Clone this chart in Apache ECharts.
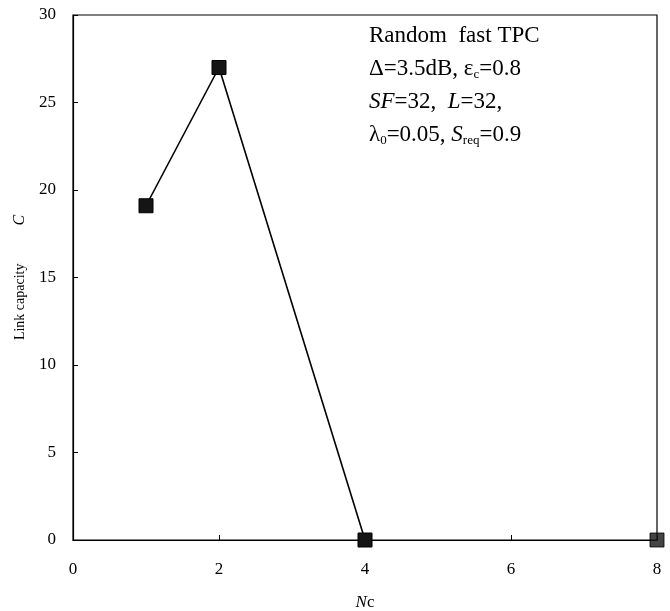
<!DOCTYPE html>
<html>
<head>
<meta charset="utf-8">
<script src="https://cdn.jsdelivr.net/npm/echarts@6/dist/echarts.min.js"></script>
<style>
  html, body { margin: 0; padding: 0; background: #fff; }
  #chart { width: 670px; height: 611px; }
</style>
</head>
<body>
<div id="chart"></div>
<script>
// data
var lineX = [1, 2, 4];
var lineY = [19.1, 27, 0];
var pointX = [8];
var pointY = [0];
var xTicks = [0, 2, 4, 6, 8];
var yTicks = [0, 5, 10, 15, 20, 25, 30];

var serif = '"Liberation Serif", "Times New Roman", serif';

function pairs(xs, ys) {
    var out = [];
    for (var i = 0; i < xs.length; i++) {
        out.push([xs[i], ys[i]]);
    }
    return out;
}

var chart = echarts.init(document.getElementById('chart'));
chart.setOption({
    animation: false,
    grid: {
        left: 73,
        right: 13,
        top: 15,
        bottom: 71,
        containLabel: false,
        outerBoundsMode: 'none',
        show: true,
        borderColor: '#000',
        borderWidth: 1.2
    },
    xAxis: {
        type: 'value',
        min: xTicks[0],
        max: xTicks[xTicks.length - 1],
        interval: 2,
        name: '{i|N}{n|c}',
        nameLocation: 'middle',
        nameGap: 54,
        nameTextStyle: {
            rich: {
                i: {fontFamily: serif, fontStyle: 'italic', fontSize: 17, color: '#000'},
                n: {fontFamily: serif, fontSize: 17, color: '#000'}
            }
        },
        axisLine: {lineStyle: {color: '#000', width: 1.2}},
        axisTick: {inside: true, length: 5, lineStyle: {color: '#000'}},
        axisLabel: {fontFamily: serif, fontSize: 17, color: '#000', margin: 21},
        splitLine: {show: false}
    },
    yAxis: {
        type: 'value',
        min: yTicks[0],
        max: yTicks[yTicks.length - 1],
        interval: 5,
        name: '{n|Link capacity}{i|C}',
        nameLocation: 'middle',
        nameRotate: 90,
        nameGap: 45,
        nameTextStyle: {
            rich: {
                n: {fontFamily: serif, fontSize: 14, color: '#000'},
                i: {fontFamily: serif, fontStyle: 'italic', fontSize: 16, color: '#000', padding: [0, 0, 0, 38]}
            }
        },
        axisLine: {lineStyle: {color: '#000', width: 1.2}},
        axisTick: {inside: true, length: 5, lineStyle: {color: '#000'}},
        axisLabel: {fontFamily: serif, fontSize: 17, color: '#000', margin: 17},
        splitLine: {show: false}
    },
    series: [
        {
            type: 'line',
            data: pairs(lineX, lineY),
            symbol: 'rect',
            symbolSize: 14,
            clip: false,
            lineStyle: {color: '#000', width: 1.6},
            itemStyle: {color: '#151515', borderColor: '#000', borderWidth: 1}
        },
        {
            type: 'scatter',
            data: pairs(pointX, pointY),
            symbol: 'rect',
            symbolSize: 14,
            clip: false,
            itemStyle: {color: '#151515', borderColor: '#000', borderWidth: 1}
        }
    ],
    graphic: [
        {
            type: 'text',
            left: 369,
            top: 24,
            style: {
                text: [
                    '{r|Random  fast TPC}',
                    '{r|\u0394=3.5dB, }{r|\u03b5}{s|c}{r|=0.8}',
                    '{it|SF}{r|=32,  }{it|L}{r|=32,}',
                    '{r|\u03bb}{s|0}{r|=0.05, }{it|S}{s|req}{r|=0.9}'
                ].join('\n'),
                fill: '#000',
                rich: {
                    r: {fontFamily: serif, fontSize: 23, lineHeight: 33, fill: '#000'},
                    it: {fontFamily: serif, fontStyle: 'italic', fontSize: 23, lineHeight: 33, fill: '#000'},
                    s: {fontFamily: serif, fontSize: 13, lineHeight: 33, padding: [12, 0, 0, 0], fill: '#000'}
                }
            }
        }
    ]
});
</script>
</body>
</html>
